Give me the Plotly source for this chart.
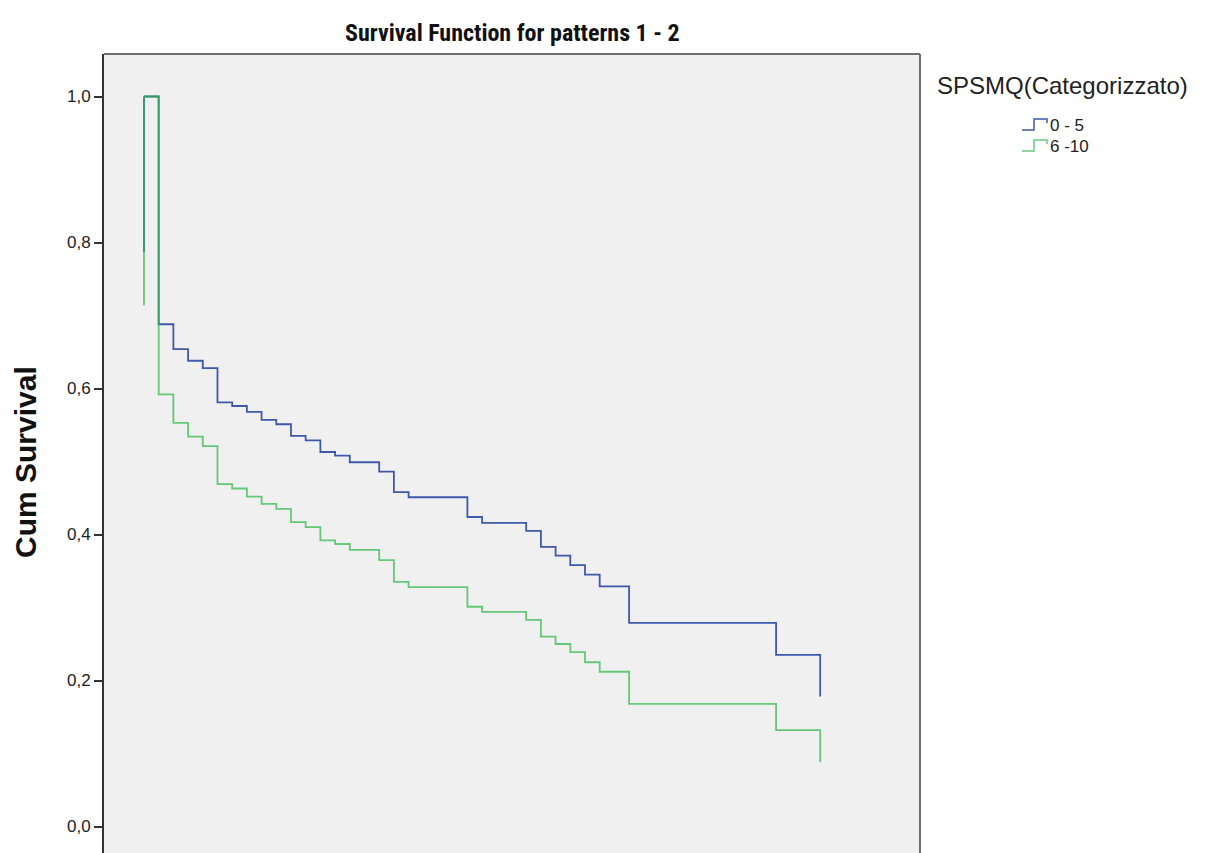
import plotly.graph_objects as go

# Kaplan-Meier survival estimates by SPSMQ category (time in months)
times_main = [0, 1, 2, 3, 4, 5, 6, 7, 8, 9, 10, 11, 12, 13, 14, 16, 17, 18,
              22, 23, 26, 27, 28, 29, 30, 31, 33, 43, 46]
surv_0_5 = [1.0, 0.688, 0.654, 0.638, 0.628, 0.581, 0.576, 0.568, 0.557, 0.551,
            0.535, 0.529, 0.513, 0.508, 0.499, 0.486, 0.458, 0.451, 0.424, 0.416,
            0.405, 0.383, 0.371, 0.358, 0.345, 0.329, 0.279, 0.235, 0.178]
surv_6_10 = [1.0, 0.592, 0.553, 0.534, 0.521, 0.469, 0.463, 0.452, 0.442, 0.435,
             0.417, 0.410, 0.392, 0.387, 0.379, 0.365, 0.335, 0.328, 0.301, 0.294,
             0.283, 0.260, 0.250, 0.239, 0.225, 0.212, 0.168, 0.132, 0.088]

# pattern 1 curves: a single drop at time 0
times_p1 = [0, 0]
surv_p1_0_5 = [1.0, 0.787]
surv_p1_6_10 = [1.0, 0.714]

groups = ["0 - 5", "6 -10"]
legend_title = "SPSMQ(Categorizzato)"
y_ticks = [0.0, 0.2, 0.4, 0.6, 0.8, 1.0]

BLUE = "rgb(62,88,172)"
GREEN = "rgba(46,184,72,0.72)"
FONT = "Liberation Sans, Arial, sans-serif"
TITLE_FONT = "Roboto Condensed, Lato, sans-serif"

W, H = 1222, 853
L, R, T, B = 104, 920, 54, 853  # plot area edges in pixels


def px(x):
    return (x - L) / (R - L)


def py(y):
    return (B - y) / (B - T)


fig = go.Figure()
for xs, ys, col in [(times_main, surv_0_5, BLUE), (times_p1, surv_p1_0_5, BLUE),
                    (times_main, surv_6_10, GREEN), (times_p1, surv_p1_6_10, GREEN)]:
    fig.add_trace(go.Scatter(x=xs, y=ys, mode="lines", line=dict(color=col, width=1.8, shape="hv"),
                             showlegend=False, hoverinfo="skip"))

shapes = [
    dict(type="line", xref="paper", yref="paper", x0=0, x1=1, y0=1, y1=1,
         line=dict(color="#6e6e6e", width=2)),
    dict(type="line", xref="paper", yref="paper", x0=1, x1=1, y0=1, y1=0,
         line=dict(color="#6e6e6e", width=2)),
]

annotations = [
    dict(text="<b>Survival Function for patterns 1 - 2</b>", xref="paper", yref="paper",
         x=px(512), y=py(33), xanchor="center", yanchor="middle", showarrow=False,
         font=dict(family=TITLE_FONT, size=24, color="#111")),
    dict(text="<b>Cum Survival</b>", xref="paper", yref="paper", textangle=-90,
         x=px(25), y=py(462), xanchor="center", yanchor="middle", showarrow=False,
         font=dict(family=FONT, size=30, color="#111")),
    dict(text=legend_title, xref="paper", yref="paper", x=px(935), y=py(85),
         xanchor="left", yanchor="middle", showarrow=False,
         font=dict(family=FONT, size=24, color="#222")),
]

# legend entries with step-shaped keys
for i, (name, col) in enumerate(zip(groups, [BLUE, GREEN])):
    yc = 125 + i * 21
    x0, x1, x2 = 1022, 1034, 1047
    path = (f"M {px(x0)},{py(yc + 5)} L {px(x1)},{py(yc + 5)} L {px(x1)},{py(yc - 6)} "
            f"L {px(x2)},{py(yc - 6)} L {px(x2)},{py(yc - 2)}")
    shapes.append(dict(type="path", xref="paper", yref="paper", path=path,
                       line=dict(color=col, width=1.5)))
    annotations.append(dict(text=name, xref="paper", yref="paper", x=px(1048), y=py(yc),
                            xanchor="left", yanchor="middle", showarrow=False,
                            font=dict(family=FONT, size=17, color="#222")))

fig.update_layout(
    width=W, height=H,
    margin=dict(l=L, r=W - R, t=T, b=H - B, pad=0),
    paper_bgcolor="white", plot_bgcolor="#f0f0f0",
    separators=",.",
    shapes=shapes, annotations=annotations,
    showlegend=False,
    xaxis=dict(range=[-2.72, 52.79], visible=False, showgrid=False, zeroline=False),
    yaxis=dict(range=[(826.5 - 853) / 730, (826.5 - 54) / 730], tickvals=y_ticks,
               tickformat=".1f", ticks="outside", ticklen=8, tickwidth=2, tickcolor="#333",
               showline=True, linewidth=2, linecolor="#333", showgrid=False, zeroline=False,
               tickfont=dict(family=FONT, size=17, color="#222")),
)

fig.write_html("out.html")
